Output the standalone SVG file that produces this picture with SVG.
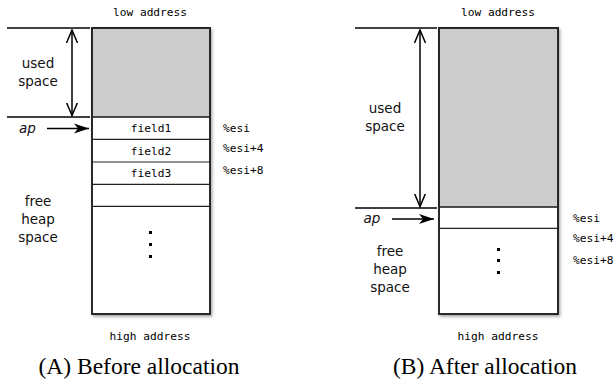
<svg xmlns="http://www.w3.org/2000/svg" width="616" height="381" viewBox="0 0 616 381">
<defs>
<filter id="sh" x="-20%" y="-10%" width="140%" height="130%">
<feDropShadow dx="1.5" dy="2" stdDeviation="1.5" flood-color="#000" flood-opacity="0.35"/>
</filter>
<marker id="vh" viewBox="0 0 14 14" refX="13" refY="7" markerWidth="14" markerHeight="14" markerUnits="userSpaceOnUse" orient="auto-start-reverse">
<path d="M0,1.5 L13,7 L0,12.5" fill="none" stroke="#000" stroke-width="1.5"/>
</marker>
<marker id="fh" viewBox="0 0 16 12" refX="15" refY="6" markerWidth="16" markerHeight="12" markerUnits="userSpaceOnUse" orient="auto">
<path d="M0,1 L15,6 L0,11 L4,6 Z" fill="#000"/>
</marker>
</defs>
<style>
.mono{font-family:"DejaVu Sans Mono","Liberation Mono",monospace;font-size:11.2px;fill:#000}
.lbl{font-family:"DejaVu Sans","Liberation Sans",sans-serif;font-size:13.5px;fill:#111;text-anchor:middle}
.cap{font-family:"Liberation Serif","Times New Roman",serif;font-size:23.5px;fill:#000;text-anchor:middle}
.box{stroke:#222;stroke-width:1.6}
.row{stroke:#222;stroke-width:1.2;fill:none}
.ln{stroke:#000;stroke-width:1.5;fill:none}
.dot{fill:#000}
</style>

<!-- Panel A -->
<g id="boxA">
<rect x="92" y="28" width="118" height="286" fill="#fff" class="box" filter="url(#sh)"/>
<rect x="92" y="28" width="118" height="89" fill="#ccc" class="box"/>
<rect x="92" y="28" width="118" height="286" fill="none" class="box"/>
<line x1="92" y1="139.3" x2="210" y2="139.3" class="row"/>
<line x1="92" y1="162" x2="210" y2="162" class="row"/>
<line x1="92" y1="184.3" x2="210" y2="184.3" class="row"/>
<line x1="92" y1="206.3" x2="210" y2="206.3" class="row"/>
<rect x="149" y="231" width="3" height="3" class="dot"/>
<rect x="149" y="243" width="3" height="3" class="dot"/>
<rect x="149" y="255" width="3" height="3" class="dot"/>
<text x="151" y="132.3" class="mono" text-anchor="middle">field1</text>
<text x="151" y="154.5" class="mono" text-anchor="middle">field2</text>
<text x="151" y="176.7" class="mono" text-anchor="middle">field3</text>
</g>
<g id="labelsA">
<text x="150" y="16" class="mono" text-anchor="middle">low address</text>
<text x="150" y="340" class="mono" text-anchor="middle">high address</text>
<text x="223" y="131.7" class="mono">%esi</text>
<text x="223" y="151.7" class="mono">%esi+4</text>
<text x="223" y="174" class="mono">%esi+8</text>
<text class="lbl"><tspan x="38" y="67.7">used</tspan><tspan x="38" y="85.5">space</tspan></text>
<text class="lbl"><tspan x="38" y="206">free</tspan><tspan x="38" y="224.3">heap</tspan><tspan x="38" y="242.3">space</tspan></text>
<text x="27.5" y="132.7" class="lbl" font-style="italic">ap</text>
<text x="139" y="374" class="cap">(A) Before allocation</text>
</g>

<!-- Panel B -->
<g id="boxB">
<rect x="439" y="28" width="119" height="286" fill="#fff" class="box" filter="url(#sh)"/>
<rect x="439" y="28" width="119" height="179" fill="#ccc" class="box"/>
<rect x="439" y="28" width="119" height="286" fill="none" class="box"/>
<line x1="439" y1="228.3" x2="558" y2="228.3" class="row"/>
<rect x="497" y="248" width="3" height="3" class="dot"/>
<rect x="497" y="259" width="3" height="3" class="dot"/>
<rect x="497" y="271" width="3" height="3" class="dot"/>
</g>
<g id="labelsB">
<text x="498" y="16" class="mono" text-anchor="middle">low address</text>
<text x="498" y="340" class="mono" text-anchor="middle">high address</text>
<text x="573" y="222.3" class="mono">%esi</text>
<text x="573" y="242.3" class="mono">%esi+4</text>
<text x="573" y="264.3" class="mono">%esi+8</text>
<text class="lbl"><tspan x="385" y="113.3">used</tspan><tspan x="385" y="131">space</tspan></text>
<text class="lbl"><tspan x="390" y="256">free</tspan><tspan x="390" y="274.3">heap</tspan><tspan x="390" y="292.3">space</tspan></text>
<text x="372" y="223.3" class="lbl" font-style="italic">ap</text>
<text x="485" y="374" class="cap">(B) After allocation</text>
</g>

<g id="connectors">
<line x1="7" y1="28" x2="90" y2="28" class="ln"/>
<line x1="7" y1="117" x2="90" y2="117" class="ln"/>
<line x1="72" y1="30" x2="72" y2="115.5" class="ln" marker-start="url(#vh)" marker-end="url(#vh)"/>
<line x1="47" y1="128.5" x2="89" y2="128.5" class="ln" marker-end="url(#fh)"/>
<line x1="355" y1="28" x2="437" y2="28" class="ln"/>
<line x1="355" y1="208" x2="437" y2="208" class="ln"/>
<line x1="420" y1="30" x2="420" y2="206.5" class="ln" marker-start="url(#vh)" marker-end="url(#vh)"/>
<line x1="392" y1="219" x2="434" y2="219" class="ln" marker-end="url(#fh)"/>
</g>
</svg>
